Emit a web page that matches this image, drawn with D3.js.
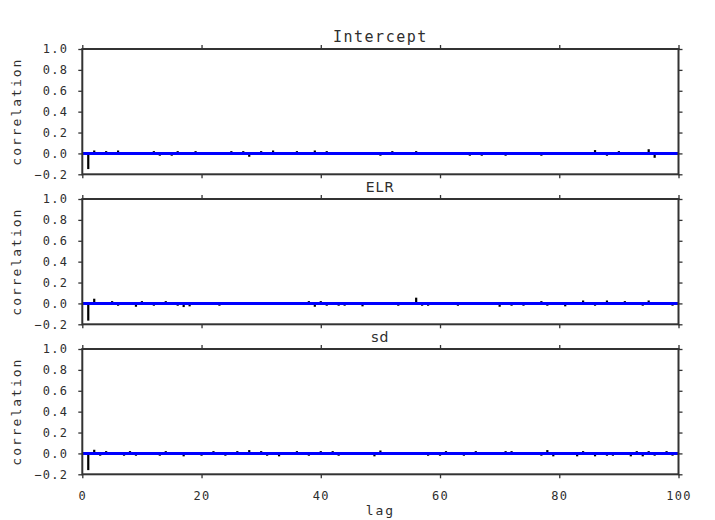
<!DOCTYPE html>
<html>
<head>
<meta charset="utf-8">
<script src="https://cdn.jsdelivr.net/npm/d3@7/dist/d3.min.js"></script>
<style>
  html, body { margin: 0; padding: 0; background: #fff; }
  svg { display: block; }
</style>
</head>
<body>
<svg id="chart" width="715" height="520"></svg>
<script>
// ---------- data ----------
const panelTitles = ["Intercept", "ELR", "sd"];
const lags = d3.range(1, 101);
const xTicks = [0, 20, 40, 60, 80, 100];
const yTicks = [-0.2, 0.0, 0.2, 0.4, 0.6, 0.8, 1.0];

const interceptAcf = [
  -0.15, 0.028, 0.004, 0.022, -0.003, 0.028, 0.006, -0.005, 0.002, -0.004,
  0.007, 0.022, -0.022, 0.003, -0.022, 0.022, -0.006, 0.004, 0.022, -0.002,
  0.005, -0.007, 0.003, -0.004, 0.022, 0.006, 0.022, -0.032, 0.002, 0.022,
  -0.005, 0.028, 0.004, -0.006, 0.003, 0.022, -0.004, 0.007, 0.028, -0.003,
  0.022, 0.005, -0.006, 0.002, -0.004, 0.006, -0.002, 0.004, -0.007, -0.022,
  0.003, 0.022, -0.004, 0.006, -0.003, 0.022, 0.002, -0.006, 0.005, -0.002,
  0.004, -0.005, 0.007, -0.003, -0.022, 0.004, -0.022, 0.006, -0.002, 0.003,
  -0.022, 0.005, -0.004, 0.002, -0.006, 0.004, -0.022, 0.003, -0.005, 0.006,
  -0.003, 0.002, -0.007, 0.004, -0.002, 0.032, 0.005, -0.022, 0.003, 0.022,
  -0.004, 0.006, -0.003, 0.002, 0.04, -0.042, 0.004, -0.005, 0.003, -0.002
];
const elrAcf = [
  -0.165, 0.045, 0.004, -0.003, 0.022, -0.022, 0.005, 0.003, -0.032, 0.022,
  -0.004, -0.022, 0.006, 0.022, -0.003, -0.022, -0.035, -0.028, 0.004, -0.005,
  0.006, -0.002, -0.022, 0.003, -0.006, 0.005, -0.003, 0.007, -0.004, 0.002,
  0.005, -0.006, 0.003, -0.002, 0.004, -0.005, 0.006, 0.022, -0.032, 0.022,
  -0.022, 0.004, -0.022, -0.022, 0.005, -0.003, -0.028, 0.006, -0.004, 0.002,
  0.005, -0.006, -0.022, 0.003, -0.004, 0.055, -0.022, -0.022, 0.004, -0.003,
  0.006, -0.005, -0.022, 0.002, 0.004, -0.006, 0.003, -0.002, 0.005, -0.032,
  0.004, -0.022, 0.006, -0.022, -0.003, 0.005, 0.022, -0.022, 0.003, -0.005,
  -0.028, 0.004, -0.006, 0.028, 0.002, -0.022, 0.005, 0.028, -0.004, 0.003,
  0.022, -0.005, 0.006, -0.022, 0.028, -0.003, 0.004, -0.006, -0.022, 0.002
];
const sdAcf = [
  -0.16, 0.035, -0.022, 0.022, 0.004, -0.005, -0.022, 0.022, -0.022, 0.003,
  -0.006, 0.005, -0.022, 0.022, -0.004, 0.006, -0.028, 0.003, -0.005, -0.022,
  0.004, 0.022, -0.003, -0.022, 0.006, 0.022, -0.004, 0.032, 0.005, 0.022,
  -0.022, 0.004, -0.028, 0.003, -0.006, 0.022, 0.005, -0.022, -0.003, 0.022,
  0.004, 0.022, -0.022, 0.006, -0.005, 0.003, -0.004, 0.005, -0.028, 0.028,
  0.004, -0.006, 0.003, -0.005, 0.006, -0.002, 0.005, -0.022, 0.004, -0.022,
  0.022, -0.004, 0.006, -0.022, 0.003, 0.022, -0.005, 0.004, -0.003, 0.006,
  0.022, 0.022, -0.004, 0.005, -0.006, 0.003, -0.022, 0.032, -0.028, 0.004,
  -0.005, 0.006, -0.028, 0.022, -0.003, -0.028, 0.004, -0.022, -0.022, 0.005,
  -0.004, -0.028, 0.022, -0.028, 0.022, -0.022, 0.004, 0.022, -0.022, 0.003
];
const seriesValues = [interceptAcf, elrAcf, sdAcf];

// ---------- layout ----------
const svg = d3.select("#chart");
const left = 82.3, right = 678.5;
const panelTops = [49, 199, 349];
const panelH = 125.3;
const axisColor = "#333";
const textColor = "#2e2e2e";
const monoFont = "'DejaVu Sans Mono', monospace";
const sansFont = "'DejaVu Sans', sans-serif";

const x = d3.scaleLinear().domain([0, 100]).range([left, right]);

function styleAxis(g, showLabels) {
  g.select(".domain").remove();
  g.selectAll(".tick line").attr("stroke", axisColor).attr("stroke-width", 1.3);
  g.selectAll(".tick text")
    .attr("fill", textColor)
    .style("font-family", monoFont)
    .style("font-size", "12px")
    .style("letter-spacing", "1.3px")
    .style("display", showLabels ? null : "none");
}

panelTitles.forEach((title, i) => {
  const top = panelTops[i];
  const y = d3.scaleLinear().domain([-0.2, 1.0]).range([top + panelH, top]);
  const g = svg.append("g");
  const vals = seriesValues[i];

  // bars
  g.selectAll("line.bar").data(lags).enter().append("line")
    .attr("class", "bar")
    .attr("x1", d => x(d)).attr("x2", d => x(d))
    .attr("y1", y(0)).attr("y2", d => y(vals[d - 1]))
    .attr("stroke", "#000").attr("stroke-width", 2.2);

  // zero line
  g.append("line")
    .attr("x1", x(0)).attr("x2", x(100))
    .attr("y1", y(0)).attr("y2", y(0))
    .attr("stroke", "#0000ff").attr("stroke-width", 3);

  // axes
  g.append("g").attr("transform", `translate(${left},0)`)
    .call(d3.axisLeft(y).tickValues(yTicks).tickFormat(d3.format(".1f")).tickSize(4).tickPadding(10).tickSizeOuter(0))
    .call(a => styleAxis(a, true));
  g.append("g").attr("transform", `translate(${right},0)`)
    .call(d3.axisRight(y).tickValues(yTicks).tickSize(4).tickSizeOuter(0))
    .call(a => styleAxis(a, false));
  g.append("g").attr("transform", `translate(0,${top})`)
    .call(d3.axisTop(x).tickValues(xTicks).tickSize(4).tickSizeOuter(0))
    .call(a => styleAxis(a, false));
  g.append("g").attr("transform", `translate(0,${top + panelH})`)
    .call(d3.axisBottom(x).tickValues(xTicks).tickFormat(d3.format("d")).tickSize(4).tickPadding(13).tickSizeOuter(0))
    .call(a => styleAxis(a, i === 2));

  // frame
  g.append("rect")
    .attr("x", left).attr("y", top)
    .attr("width", right - left).attr("height", panelH)
    .attr("fill", "none").attr("stroke", axisColor).attr("stroke-width", 2);

  // title
  g.append("text")
    .attr("x", (left + right) / 2).attr("y", top - 7)
    .attr("text-anchor", "middle")
    .attr("fill", textColor)
    .style("font-family", i === 0 ? monoFont : sansFont)
    .style("font-size", i === 0 ? "15px" : "14px")
    .style("letter-spacing", i === 0 ? "1.5px" : "1px")
    .text(title);

  // y label
  g.append("text")
    .attr("transform", `translate(21,${top + panelH / 2}) rotate(-90)`)
    .attr("text-anchor", "middle")
    .attr("fill", textColor)
    .style("font-family", monoFont)
    .style("font-size", "13px")
    .style("letter-spacing", "2px")
    .text("correlation");
});

// x label
svg.append("text")
  .attr("x", (left + right) / 2).attr("y", 515)
  .attr("text-anchor", "middle")
  .attr("fill", textColor)
  .style("font-family", monoFont)
  .style("font-size", "13px")
  .style("letter-spacing", "2px")
  .text("lag");
</script>
</body>
</html>
